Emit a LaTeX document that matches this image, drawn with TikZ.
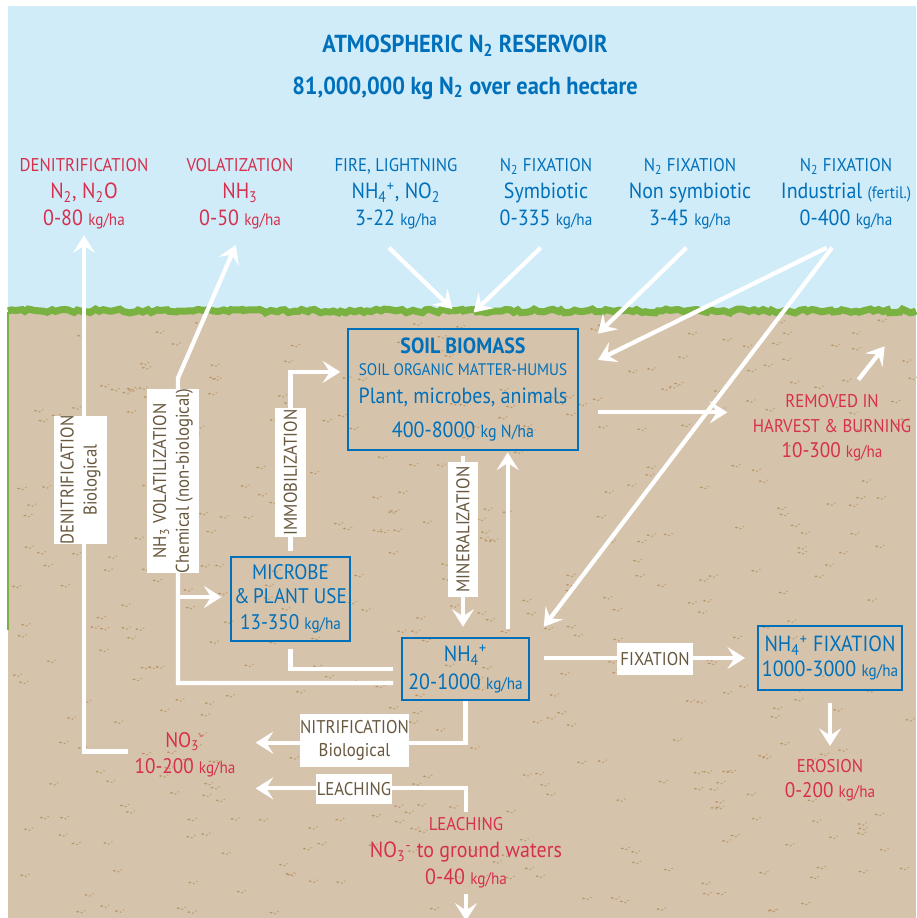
\documentclass[tikz,border=0pt]{standalone}
\usepackage{fontspec}
\setmainfont{PT Sans}[FakeStretch=0.91]
\usepackage{tikz}
\usetikzlibrary{arrows.meta,decorations.pathmorphing}

\definecolor{skyblue}{RGB}{208,236,249}
\definecolor{soilbrown}{RGB}{214,195,172}
\definecolor{grassgreen}{RGB}{122,178,66}
\definecolor{speckle}{RGB}{184,150,102}
\definecolor{poolblue}{RGB}{0,112,186}
\definecolor{lossred}{RGB}{214,48,78}
\definecolor{tagbrown}{RGB}{104,88,62}

\newcommand{\hdsize}{\fontsize{10.5}{15.3}\selectfont}
\newcommand{\bigsize}{\fontsize{12.5}{15.3}\selectfont}
\newcommand{\kgsize}{\fontsize{9.5}{15.3}\selectfont}
\newcommand{\kgha}{{\kgsize kg/ha}}

\tikzset{
  pool/.style={draw=poolblue,line width=0.8pt,text=poolblue,align=center,inner sep=0pt},
  gain/.style={text=poolblue,align=center,font=\bigsize},
  loss/.style={text=lossred,align=center,font=\bigsize},
  tag/.style={fill=white,text=tagbrown,align=center,inner sep=0pt,
              font=\fontsize{10.5}{13}\selectfont},
  flow/.style={draw=white,line width=2.4pt,-{Stealth[length=10pt,width=12.5pt,inset=4pt]}},
  pipe/.style={draw=white,line width=2.4pt}
}

\begin{document}
\begin{tikzpicture}[x=0.02cm,y=-0.02cm]
\useasboundingbox (0,0) rectangle (916,918);
\fill[white] (0,0) rectangle (916,918);
\fill[skyblue] (8,6) rectangle (916,312);
\fill[soilbrown] (8,312) rectangle (916,918);
\pgfmathsetseed{4}
\foreach \i in {1,...,450}{
  \pgfmathsetmacro\sx{12+898*rnd}
  \pgfmathsetmacro\sy{320+594*rnd}
  \fill[speckle] (\sx,\sy) ellipse (1.7 and 0.9);
  \fill[speckle,opacity=0.8] (\sx+4,\sy+1) ellipse (1.3 and 0.8);
  \fill[speckle,opacity=0.7] (\sx+7,\sy-1) ellipse (1.1 and 0.7);
}
\draw[grassgreen,line width=4pt,decorate,
      decoration={random steps,segment length=2.5pt,amplitude=1.1pt}] (8,311) -- (916,311);
\draw[grassgreen,line width=1.2pt] (8,312) -- (8,630);

\node[text=poolblue,font={\fontsize{14}{16}\selectfont\bfseries}] (title) at (465,46)
  {ATMOSPHERIC N\textsubscript{2} RESERVOIR};
\node[text=poolblue,font={\fontsize{14}{16}\selectfont\bfseries}] (hectare) at (465,88)
  {81,000,000 kg N\textsubscript{2} over each hectare};

\node[loss] (denit) at (84,194) {{\hdsize DENITRIFICATION}\\N\textsubscript{2}, N\textsubscript{2}O\\0-80 \kgha};
\node[loss] (volat) at (240,194) {{\hdsize VOLATIZATION}\\NH\textsubscript{3}\\0-50 \kgha};
\node[gain] (fire) at (396,194) {{\hdsize FIRE, LIGHTNING}\\NH\textsubscript{4}\textsuperscript{+}, NO\textsubscript{2}\\3-22 \kgha};
\node[gain] (symb) at (546,194) {{\hdsize N\textsubscript{2} FIXATION}\\Symbiotic\\0-335 \kgha};
\node[gain] (nonsymb) at (690,194) {{\hdsize N\textsubscript{2} FIXATION}\\Non symbiotic\\3-45 \kgha};
\node[gain] (indust) at (846,194) {{\hdsize N\textsubscript{2} FIXATION}\\Industrial {\kgsize (fertil.)}\\0-400 \kgha};

\node[pool,minimum width=4.6cm,minimum height=2.42cm,font={\fontsize{12.5}{12.8}\selectfont}] (biomass) at (463,389.5)
  {{\bfseries SOIL BIOMASS}\\{\fontsize{9.5}{10}\selectfont SOIL ORGANIC MATTER-HUMUS}\\[3pt]
   Plant, microbes, animals\\[6.5pt]400-8000 {\fontsize{10}{12}\selectfont kg N/ha}};
\node[pool,minimum width=2.38cm,minimum height=1.68cm,font={\fontsize{12}{13.5}\selectfont}] (microbe) at (290.5,599)
  {MICROBE\\\&\,PLANT USE\\[1.5pt]13-350 {\kgsize kg/ha}};
\node[pool,minimum width=2.54cm,minimum height=1.24cm,font={\fontsize{12.5}{15.9}\selectfont}] (nh4) at (465.5,669)
  {NH\textsubscript{4}\textsuperscript{+}\\20-1000 {\kgsize kg/ha}};
\node[pool,minimum width=2.88cm,minimum height=1.28cm,font={\fontsize{12.5}{14.2}\selectfont}] (nfix) at (830,658)
  {NH\textsubscript{4}\textsuperscript{+} FIXATION\\1000-3000 {\kgsize kg/ha}};

\node[loss,font={\fontsize{12}{14.2}\selectfont}] (removed) at (832,428)
  {{\hdsize REMOVED IN}\\{\hdsize HARVEST \& BURNING}\\10-300 \kgha};
\node[loss,font={\fontsize{12}{14.2}\selectfont}] (erosion) at (830,780)
  {{\hdsize EROSION}\\0-200 \kgha};
\node[loss,font={\fontsize{12}{14.7}\selectfont}] (no3) at (185,755)
  {NO\textsubscript{3}\textsuperscript{-}\\10-200 \kgha};
\node[loss] (leach) at (466,853)
  {{\hdsize LEACHING}\\NO\textsubscript{3}\textsuperscript{-} to ground waters\\0-40 \kgha};

\coordinate (vfoot) at (393,683);
\coordinate (vknee) at (178,378);
\coordinate (vjoin) at (178,597);

\draw[flow] ([yshift=2pt]no3.west) -| (denit.south);
\draw[flow,shorten >=6pt] (vfoot) -| (vknee) -- (volat.south);
\draw[flow,shorten >=5pt] (vjoin) -- (microbe.west |- vjoin);
\draw[pipe] ([yshift=-4pt]microbe.south) |- ([xshift=-5pt]nh4.west);
\draw[flow] ([yshift=3pt]microbe.north) |- ([xshift=-4pt,yshift=10pt]biomass.west);
\draw[flow,shorten <=3pt,shorten >=6pt] (biomass.south) -- (biomass.south |- nh4.north);
\draw[flow,shorten <=4.5pt,shorten >=1pt] ([xshift=24pt]nh4.north) -- ([xshift=24pt]nh4.north |- biomass.south);
\draw[flow,shorten <=8pt,shorten >=7pt] (nh4.east |- nfix.west) -- (nfix.west);
\draw[flow,shorten <=7pt,shorten >=4pt] (nfix.south) -- (erosion.north);
\draw[flow] ([xshift=11pt,yshift=-13pt]biomass.east) -- ([xshift=-11pt,yshift=-13pt]biomass.east -| removed.west);
\draw[flow] ([xshift=15pt,yshift=5pt]removed.north) -- ([xshift=30pt,yshift=24pt]removed.north);
\draw[flow,shorten >=8pt] (nh4.south) |- ([yshift=7pt]no3.east);
\draw[flow,shorten >=8pt] (leach.north) |- ([yshift=-19pt]no3.east);
\draw[flow] (leach.south) -- ([yshift=-15pt]leach.south);

\draw[flow] ([xshift=-4pt,yshift=-7pt]fire.south) -- ([xshift=-6pt,yshift=11pt]biomass.north);
\draw[flow] ([xshift=-3pt,yshift=-7pt]symb.south) -- ([xshift=6pt,yshift=9pt]biomass.north);
\draw[flow] ([xshift=-2pt,yshift=-7pt]nonsymb.south) -- ([xshift=11pt,yshift=-3pt]biomass.north east);
\draw[flow] ([xshift=-11pt,yshift=-7pt]indust.south) -- ([xshift=11pt,yshift=-18pt]biomass.north east);
\draw[flow] ([xshift=-8pt,yshift=-7pt]indust.south) -- ([xshift=8pt,yshift=6pt]nh4.north east);

\node[tag,rotate=90,minimum width=2.56cm,minimum height=1.06cm] (tdenit) at (80.5,480) {DENITRIFICATION\\Biological};
\node[tag,rotate=90,minimum width=3.64cm,minimum height=1.04cm] (tvolat) at (173,481) {NH\textsubscript{3} VOLATILIZATION\\Chemical (non-biological)};
\node[tag,rotate=90,minimum width=2.58cm,minimum height=0.62cm] (timmob) at (290.5,472.5) {IMMOBILIZATION};
\node[tag,rotate=90,minimum width=2.7cm,minimum height=0.6cm] (tminer) at (463,529.5) {MINERALIZATION};
\node[tag,minimum width=1.52cm,minimum height=0.64cm] (tfix) at (655,659) {FIXATION};
\node[tag,minimum width=2.1cm,minimum height=1.06cm] (tnitr) at (354.5,740.5) {NITRIFICATION\\Biological};
\node[tag,minimum width=1.52cm,minimum height=0.6cm] (tleach) at (354,789) {LEACHING};
\end{tikzpicture}
\end{document}
